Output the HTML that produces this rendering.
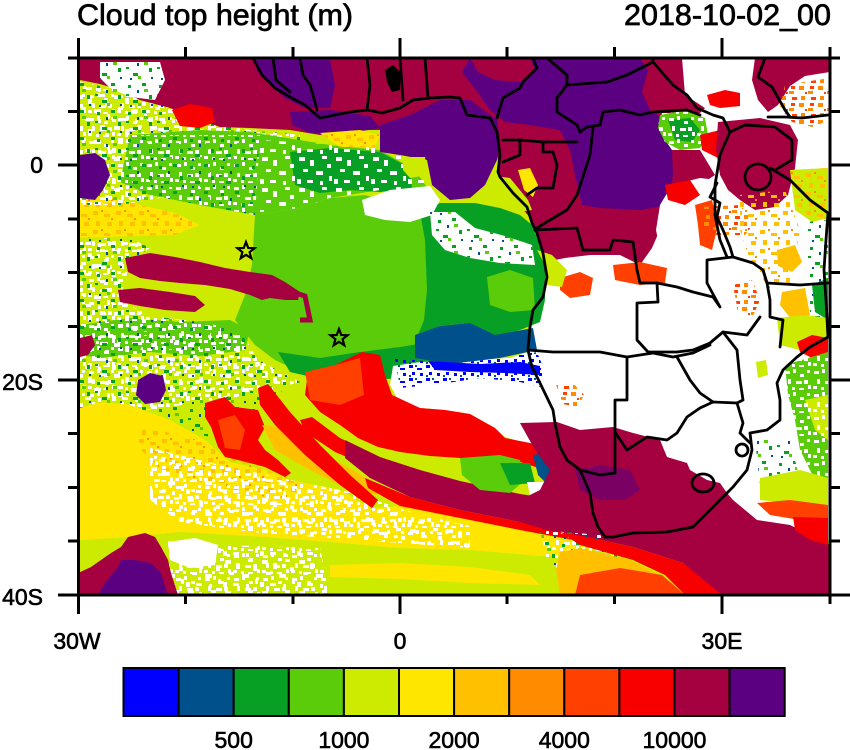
<!DOCTYPE html>
<html><head><meta charset="utf-8"><style>
html,body{margin:0;padding:0;background:#fff;}
svg{display:block;}
text{font-family:"Liberation Sans",Arial,sans-serif;fill:#000;}
</style></head><body>
<svg width="850" height="750" viewBox="0 0 850 750" xmlns="http://www.w3.org/2000/svg">
<defs>
<clipPath id="cp"><rect x="80" y="59.5" width="749" height="534"/></clipPath>
<pattern id="pw" width="29" height="23" patternUnits="userSpaceOnUse"><path fill="#fff" d="M2 3h5v3H2zM10 1h3v4h-3zM17 6h4v3h-4zM24 2h3v3h-3zM5 11h3v5H5zM13 13h6v3h-6zM21 12h4v4h-4zM1 18h4v3H1zM9 19h3v3H9zM16 20h5v2h-5zM25 17h3v4h-3z"/></pattern>
<pattern id="pw2" width="37" height="31" patternUnits="userSpaceOnUse"><path fill="#fff" d="M3 2h6v4H3zM14 5h4v6h-4zM26 1h5v3h-5zM31 9h4v4h-4zM7 14h5v3H7zM20 16h7v4h-7zM1 24h4v5H1zM11 25h6v3h-6zM24 26h3v4h-3zM33 21h3v5h-3z"/></pattern>
<pattern id="pg" width="31" height="27" patternUnits="userSpaceOnUse"><path fill="#08A024" d="M4 4h3v3H4zM18 2h4v3h-4zM25 14h3v4h-3zM9 19h5v3H9zM2 13h3v2H2z"/><path fill="#00508C" d="M13 9h2v3h-2zM27 23h2v2h-2zM6 24h2v2H6z"/><path fill="#5ACC0A" d="M20 8h4v3h-4zM14 22h3v3h-3z"/></pattern>
<pattern id="pa" width="23" height="19" patternUnits="userSpaceOnUse"><path fill="#FFC000" d="M1 2h5v4H1zM12 5h6v3h-6zM4 12h4v5H4zM15 13h5v4h-5z"/><path fill="#FF8C00" d="M9 1h2v2H9zM19 9h2v2h-2z"/></pattern>
<pattern id="po" width="19" height="17" patternUnits="userSpaceOnUse"><path fill="#FF8C00" d="M1 1h5v4H1zM10 6h5v3h-5zM3 11h4v4H3z"/><path fill="#FF4000" d="M12 1h4v3h-4zM13 12h5v3h-5zM7 7h2v2H7z"/></pattern>
<pattern id="pb" width="17" height="13" patternUnits="userSpaceOnUse"><path fill="#0000FF" d="M1 1h4v3H1zM9 4h5v2H9zM4 8h3v3H4zM12 9h3v3h-3z"/><path fill="#00508C" d="M7 1h2v2H7zM1 11h2v2H1z"/></pattern>
</defs>

<g clip-path="url(#cp)">
<rect x="0" y="0" width="850" height="750" fill="#fff"/>
<polygon fill="#CCEB00" points="80,80 497,80 497,132 500,155 498,172 500,177 513,193 527,207 532,223 537,233 543,253 547,277 543,297 533,310 530,327 528,350 532,367 540,383 553,410 555,423 560,447 567,460 580,470 590,493 593,513 598,527 605,537 830,540 830,595 80,595"/>
<polygon fill="#FFE600" points="80,196 110,197 140,205 175,213 200,225 175,235 130,236 80,238"/>
<polygon fill="url(#pa)" points="80,196 110,197 140,205 175,213 200,225 175,235 130,236 80,238"/>
<polygon fill="#5ACC0A" points="80,325 130,318 180,322 230,320 250,330 245,350 200,356 150,352 100,358 80,355"/>
<polygon fill="url(#pw)" points="80,82 120,90 160,103 200,122 250,130 300,135 300,150 250,160 200,185 160,198 120,205 80,205"/>
<polygon fill="url(#pw2)" points="80,82 120,90 160,103 200,122 250,130 300,135 300,150 250,160 200,185 160,198 120,205 80,205"/>
<polygon fill="url(#pg)" points="80,82 120,90 160,103 200,122 250,130 300,135 300,150 250,160 200,185 160,198 120,205 80,205"/>
<polygon fill="url(#pw)" points="80,238 130,238 150,248 130,262 120,300 150,316 200,322 240,330 258,360 300,382 250,395 200,402 150,410 80,408"/>
<polygon fill="url(#pw2)" points="80,238 130,238 150,248 130,262 120,300 150,316 200,322 240,330 258,360 300,382 250,395 200,402 150,410 80,408"/>
<polygon fill="url(#pg)" points="80,238 130,238 150,248 130,262 120,300 150,316 200,322 240,330 258,360 300,382 250,395 200,402 150,410 80,408"/>
<polygon fill="url(#pg)" points="80,360 250,360 300,382 265,400 230,440 170,430 120,410 80,405"/>
<polygon fill="#5ACC0A" points="130,135 200,130 250,132 330,145 380,150 415,170 430,192 380,190 330,198 300,208 255,215 200,205 150,195 120,182"/>
<polygon fill="#08A024" points="290,152 330,148 380,152 410,168 412,188 380,192 350,190 320,193 295,185"/>
<polygon fill="url(#pw)" points="120,135 260,135 255,215 200,205 150,195 120,182"/>
<polygon fill="url(#pg)" points="120,135 260,135 255,215 200,205 150,195 120,182"/>
<polygon fill="url(#pw2)" points="260,140 420,150 430,192 380,190 330,198 300,208 260,212"/>
<polygon fill="#5ACC0A" points="255,215 300,208 330,198 365,195 400,205 428,210 428,240 428,290 425,320 422,345 390,360 370,372 330,376 300,372 275,360 255,345 235,320 245,295 252,265"/>
<polygon fill="#08A024" points="420,212 440,203 475,203 500,208 520,215 532,225 540,245 545,270 545,300 540,322 520,330 495,337 470,323 440,326 418,335 424,320 427,290 425,240"/>
<polygon fill="#5ACC0A" points="487,277 510,270 533,278 535,310 510,312 490,305"/>
<polygon fill="#fff" points="362,200 390,190 430,186 440,200 432,215 410,222 385,220 365,215"/>
<polygon fill="#fff" points="430,212 455,212 475,228 505,236 532,245 535,265 500,263 470,258 445,250 432,235"/>
<polygon fill="url(#pg)" points="430,212 455,212 475,228 505,236 532,245 535,265 500,263 470,258 445,250 432,235"/>
<polygon fill="#FFE600" points="80,408 100,402 130,405 170,420 205,440 230,462 265,470 290,480 340,490 370,508 400,506 460,518 520,530 575,542 578,556 540,556 470,550 400,548 330,542 250,536 180,532 130,537 80,540"/>
<polygon fill="url(#pa)" points="140,425 205,442 265,470 300,482 300,500 250,495 200,482 160,468 135,445"/>
<polygon fill="url(#pw)" points="150,448 220,465 300,482 350,492 420,515 470,526 470,548 400,543 330,538 250,532 180,522 150,500"/>
<polygon fill="url(#pw2)" points="150,448 220,465 300,482 350,492 420,515 470,526 470,548 400,543 330,538 250,532 180,522 150,500"/>
<polygon fill="url(#pw)" points="168,540 220,545 320,548 330,595 170,595"/>
<polygon fill="url(#pw2)" points="168,540 220,545 320,548 330,595 170,595"/>
<polygon fill="#fff" points="168,542 195,538 218,545 215,565 190,568 170,560"/>
<polygon fill="#FFE600" points="330,565 400,563 470,567 530,575 540,585 470,583 400,579 330,577"/>
<polygon fill="#08A024" points="278,352 320,358 360,352 400,347 425,343 440,350 430,366 400,378 360,381 320,379 290,372"/>
<polygon fill="#fff" points="393,366 420,362 470,360 510,358 528,352 532,367 540,383 553,410 555,423 540,445 525,443 505,437 495,428 470,414 445,410 420,408 398,400 390,385"/>
<polygon fill="#00508C" points="415,335 440,326 470,323 495,335 533,328 537,350 500,358 450,364 415,358"/>
<polygon fill="url(#pb)" points="395,358 450,364 500,358 537,352 545,372 545,388 520,382 480,378 440,384 400,388"/>
<polygon fill="#0000FF" points="428,361 480,364 520,362 540,366 540,375 505,373 470,372 435,370"/>
<polygon fill="#F80000" points="305,395 308,372 335,365 362,352 380,355 385,375 392,395 420,408 445,410 470,414 495,428 505,438 530,443 553,450 560,470 545,470 520,462 490,458 460,458 430,456 400,452 378,447 358,438 340,425 320,412"/>
<polygon fill="#FF4000" points="305,372 335,365 360,358 364,395 340,405 310,400"/>
<polygon fill="#F80000" points="205,403 225,397 235,407 258,410 265,427 258,440 265,450 278,460 291,473 285,477 265,467 238,460 225,457 218,447 211,427 205,417"/>
<polygon fill="#FF4000" points="218,420 235,415 245,430 240,450 225,448"/>
<polygon fill="#FFC000" points="262,425 300,430 335,460 370,480 378,495 350,490 310,470 275,450"/>
<polygon fill="#F80000" points="258,388 268,384 290,412 320,445 350,475 378,500 372,508 340,485 305,455 275,425 260,405"/>
<polygon fill="#F80000" points="300,420 312,417 340,438 380,458 420,472 418,482 378,470 335,452 305,432"/>
<polygon fill="#A50040" points="345,440 380,457 420,470 460,481 520,494 560,500 590,505 590,535 560,532 520,522 460,510 410,497 370,478 345,458"/>
<polygon fill="#F80000" points="365,478 410,497 460,510 520,522 590,536 590,543 520,530 460,518 400,506 368,488"/>
<polygon fill="#5ACC0A" points="460,458 500,455 520,460 525,480 510,493 480,490 462,475"/>
<polygon fill="#08A024" points="500,463 530,463 535,483 510,485"/>
<polygon fill="#00508C" points="533,455 550,452 565,465 567,485 550,487 538,475"/>
<polygon fill="#fff" points="527,482 557,482 557,495 530,495"/>
<polygon fill="#A50040" points="125,258 150,253 175,257 200,262 225,268 250,272 272,275 285,282 300,292 298,300 285,300 270,298 262,300 250,295 230,289 205,285 180,283 160,281 140,278 128,272"/>
<polyline fill="none" stroke="#A50040" stroke-width="5" points="280,288 305,296 310,320 300,320"/>
<polygon fill="#A50040" points="118,290 140,288 170,292 195,296 205,305 195,312 165,310 140,306 120,302"/>
<polygon fill="#A50040" points="80,338 92,335 95,345 88,355 80,357"/>
<polygon fill="#5A0080" points="138,380 150,373 163,376 166,390 160,402 145,404 136,395"/>
<polygon fill="#5A0080" points="80,155 95,153 105,160 110,175 103,190 95,200 80,198"/>
<polygon fill="#A50040" points="78,573 91,567 111,553 121,547 128,537 145,533 155,537 161,547 168,560 171,573 178,595 78,595"/>
<polygon fill="#5A0080" points="98,595 105,583 118,567 121,560 135,560 151,563 161,573 165,587 168,595"/>
<polygon fill="#A50040" points="80,58 682,58 685,95 705,108 700,113 662,113 655,150 700,150 715,175 700,185 675,195 662,225 652,248 640,265 620,255 590,255 565,258 545,262 540,240 532,220 515,200 500,185 497,150 480,150 440,145 400,135 380,130 350,130 320,135 290,130 250,128 220,127 200,120 170,108 140,100 120,90 100,84 80,80"/>
<polygon fill="#fff" points="100,62 160,62 165,80 155,100 130,97 110,88 100,78"/>
<polygon fill="url(#pg)" points="100,62 160,62 165,80 155,100 130,97 110,88 100,78"/>
<polygon fill="#F80000" points="172,110 190,104 212,108 215,122 200,128 180,126"/>
<polygon fill="#5A0080" points="253,60 330,60 335,85 330,108 305,108 285,98 270,85 258,72"/>
<polygon fill="#5A0080" points="290,112 330,110 370,116 380,128 350,133 310,133 292,125"/>
<polygon fill="#FFE600" points="320,133 360,130 380,135 375,147 340,147"/>
<polygon fill="url(#pa)" points="320,133 360,130 380,135 375,147 340,147"/>
<polygon fill="#5A0080" points="380,125 410,115 440,100 470,100 497,120 500,140 497,160 485,185 470,198 450,200 432,185 427,160 400,155 380,152"/>
<polygon fill="#CCEB00" points="403,157 425,157 428,175 410,178 403,170"/>
<polygon fill="#5A0080" points="470,58 640,58 648,70 642,92 650,110 662,118 665,140 672,150 673,175 668,205 640,210 600,208 582,205 575,175 570,150 560,130 530,125 505,122 490,110 476,90 462,72"/>
<polygon fill="#A50040" points="470,58 530,58 535,70 520,82 495,80 478,72"/>
<polygon fill="#A50040" points="755,58 830,58 830,72 805,76 790,86 778,105 768,112 758,100 752,80"/>
<polygon fill="url(#po)" points="785,85 830,78 830,120 812,127 792,122 780,108"/>
<polygon fill="#F80000" points="707,95 725,90 740,93 740,106 720,108 710,105"/>
<polygon fill="#5ACC0A" points="660,115 685,110 705,118 708,135 700,148 680,150 665,142 658,128"/>
<polygon fill="#08A024" points="668,120 690,118 700,130 692,142 675,140"/>
<polygon fill="url(#pw)" points="660,115 685,110 705,118 708,135 700,148 680,150 665,142 658,128"/>
<polygon fill="#F80000" points="700,135 720,130 740,135 740,155 718,158 702,150"/>
<polygon fill="#A50040" points="718,122 760,118 790,125 798,140 795,168 788,195 775,207 755,210 740,200 728,190 720,175 716,150"/>
<polygon fill="#CCEB00" points="790,170 828,168 828,218 812,222 795,210"/>
<polygon fill="url(#pa)" points="790,170 828,168 828,218 812,222 795,210"/>
<polygon fill="#fff" points="672,185 700,178 718,180 720,215 718,250 700,256 680,258 660,250 656,230 660,205"/>
<polygon fill="#F80000" points="665,185 690,180 700,195 685,205 668,200"/>
<polygon fill="#FF4000" points="695,205 712,200 718,225 712,250 700,245 698,225"/>
<polygon fill="#FF4000" points="613,265 640,262 667,268 665,283 640,285 615,280"/>
<polygon fill="#FF4000" points="560,278 580,272 593,278 590,295 570,298 560,290"/>
<polygon fill="url(#po)" points="700,207 740,205 755,222 745,235 715,235 700,225"/>
<polygon fill="url(#pa)" points="740,195 785,190 800,230 790,285 770,290 750,260 740,230"/>
<polygon fill="#FFC000" points="777,250 795,245 802,262 792,272 778,266"/>
<polygon fill="#FFC000" points="782,292 805,288 810,315 792,320 780,305"/>
<polygon fill="url(#po)" points="733,285 752,280 760,300 752,318 738,312"/>
<polygon fill="url(#pg)" points="805,222 828,220 828,345 815,340 808,300 805,270"/>
<polygon fill="#08A024" points="812,285 828,278 828,320 815,312"/>
<polygon fill="#CCEB00" points="777,318 805,315 828,318 828,336 800,350 780,345"/>
<polygon fill="#F80000" points="797,342 812,335 828,338 828,355 812,358 800,352"/>
<polygon fill="#5ACC0A" points="785,365 828,352 828,485 815,480 800,450 795,420 788,395"/>
<polygon fill="#CCEB00" points="805,400 828,395 828,440 815,430"/>
<polygon fill="url(#pw)" points="785,365 828,352 828,485 815,480 800,450 795,420 788,395"/>
<polygon fill="#CCEB00" points="756,362 766,360 768,375 758,378"/>
<polygon fill="url(#pg)" points="755,440 790,440 800,480 760,485"/>
<polygon fill="#CCEB00" points="495,176 510,178 528,200 532,210 520,212 505,198 495,188"/>
<polygon fill="#FFE600" points="518,170 530,168 538,185 533,197 524,190"/>
<polygon fill="#CCEB00" points="537,250 552,255 567,270 562,287 547,285 545,265"/>
<polygon fill="url(#po)" points="556,385 572,382 584,395 578,407 563,404"/>
<polygon fill="#A50040" points="520,423 557,422 580,430 613,427 633,433 660,440 667,457 687,463 690,470 707,480 720,483 727,493 733,500 757,520 790,525 830,545 830,595 720,595 683,563 633,547 587,537 547,530 520,522 505,512 520,500 540,490 550,470 535,450"/>
<polygon fill="#5A0080" opacity="0.55" points="575,470 600,465 630,470 640,490 625,500 600,500 580,490"/>
<polygon fill="#CCEB00" points="760,478 800,470 828,478 828,505 790,503 760,500"/>
<polygon fill="#FF4000" points="757,503 790,500 828,505 828,522 800,520 770,515"/>
<polygon fill="#F80000" points="793,517 828,518 828,545 810,540 795,530"/>
<polygon fill="url(#pw)" points="540,530 600,535 620,555 600,575 560,575 545,555"/>
<polygon fill="url(#pg)" points="540,530 600,535 620,555 600,575 560,575 545,555"/>
<polygon fill="#F80000" points="560,532 587,537 633,547 683,563 722,595 685,595 665,575 633,560 580,545"/>
<polygon fill="#FFC000" points="560,552 580,548 630,560 660,575 620,568 580,575 575,595 560,595 556,570"/>
<polygon fill="#FF4000" points="580,575 620,568 662,575 685,595 575,595"/>
<g fill="none" stroke="#000" stroke-width="2.8" stroke-linejoin="round" stroke-linecap="round">
<polyline points="253,58 262,75 275,88 290,97 305,105 320,118 335,115 350,112 368,110 382,113 400,108 413,100 430,98 450,97 460,98 467,115 490,118 497,132 500,155 498,172 500,177 513,193 527,207 532,223 537,233 543,253 547,277 543,297 533,310 530,327 528,350 532,367 540,383 553,410 555,423 560,447 567,460 580,470 590,493 593,513 598,527 605,537 613,537 633,533 667,532 693,527 700,520 717,503 733,487 747,470 752,450 750,433 767,430 780,420 780,400 777,383 783,370 797,357 810,347 828,337 826,300 824,270 826,240 828,213"/>
<polyline points="273,58 276,80 290,92"/>
<polyline points="300,58 303,75 310,85 313,95 317,110"/>
<polyline points="367,110 370,85 367,58"/>
<polyline points="400,58 403,100"/>
<polyline points="425,58 428,98"/>
<polyline points="497,118 503,98 520,88 523,82 537,68 533,58"/>
<polyline points="547,58 567,75 567,85 557,98 557,112 577,125 580,132 587,127 600,125"/>
<polyline points="567,85 607,82 627,75 653,62 653,58"/>
<polyline points="600,125 603,112 620,110 640,115 653,112 687,110 700,115"/>
<polyline points="653,62 673,85 687,95 697,108 713,115 723,118 730,132 720,155 715,185 715,215 720,240 727,257"/>
<polyline points="503,140 520,140 543,142 577,142"/>
<polyline points="520,140 520,155 503,162"/>
<polyline points="543,142 543,152 553,152 557,165 553,188 537,188 527,195"/>
<polyline points="593,128 590,155 577,195 567,210 550,220 537,228"/>
<polyline points="717,183 710,197 720,203 717,217 723,230 730,247 733,257"/>
<polyline points="730,132 745,125 775,127 792,140 792,160 775,170"/>
<polyline points="768,117 785,117 802,118 828,115"/>
<polyline points="765,58 758,77 772,87 785,110 790,117"/>
<circle cx="758" cy="177" r="13"/>
<polyline points="770,168 790,180 810,200 828,213"/>
<polyline points="733,257 753,263 763,270 767,283 800,285 828,283"/>
<polyline points="763,270 767,283 770,300 770,317 783,320 780,347"/>
<polyline points="535,230 577,228 583,250 610,250 613,240 633,242 637,270 640,283 657,283 658,302 637,303 637,340 648,352"/>
<polyline points="657,283 677,287 693,292 713,297 720,307 707,283 707,260 733,257"/>
<polyline points="528,350 553,352 600,352 627,357 653,353 673,357 693,353 710,345"/>
<polyline points="648,352 677,352 693,350 710,343 723,332 747,335 760,317"/>
<polyline points="627,357 627,400 615,400 615,473 600,475 580,470"/>
<polyline points="615,432 627,450 647,437 667,440 677,433 687,417 700,408 713,402 737,403"/>
<polyline points="677,357 690,380 700,393 713,402"/>
<polyline points="723,332 737,350 740,380 743,400 737,403 743,423 740,433 750,443"/>
<ellipse cx="703" cy="483" rx="11" ry="9"/>
<circle cx="742" cy="450" r="6"/>
</g>
<polygon fill="#000" points="385,70 393,65 400,72 400,90 392,92 387,82"/>
<g fill="none" stroke="#000" stroke-width="2.2" stroke-linejoin="miter">
<polygon transform="translate(246,251)" points="0,-9 2.23,-3.07 8.56,-2.78 3.61,1.17 5.29,7.28 0,3.8 -5.29,7.28 -3.61,1.17 -8.56,-2.78 -2.23,-3.07"/>
<polygon transform="translate(339,338)" points="0,-9 2.23,-3.07 8.56,-2.78 3.61,1.17 5.29,7.28 0,3.8 -5.29,7.28 -3.61,1.17 -8.56,-2.78 -2.23,-3.07"/>
</g>
</g>

<rect x="78.5" y="58" width="751.5" height="537" fill="none" stroke="#000" stroke-width="3"/>
<g stroke="#000" stroke-width="3">
<line x1="78.5" y1="38" x2="78.5" y2="58"/><line x1="400" y1="38" x2="400" y2="58"/><line x1="722" y1="38" x2="722" y2="58"/>
<line x1="185.5" y1="47" x2="185.5" y2="58"/><line x1="293" y1="47" x2="293" y2="58"/><line x1="507" y1="47" x2="507" y2="58"/><line x1="614.5" y1="47" x2="614.5" y2="58"/><line x1="830" y1="47" x2="830" y2="58"/>
<line x1="78.5" y1="595" x2="78.5" y2="614"/><line x1="400" y1="595" x2="400" y2="614"/><line x1="722" y1="595" x2="722" y2="614"/>
<line x1="185.5" y1="595" x2="185.5" y2="604"/><line x1="293" y1="595" x2="293" y2="604"/><line x1="507" y1="595" x2="507" y2="604"/><line x1="614.5" y1="595" x2="614.5" y2="604"/><line x1="830" y1="595" x2="830" y2="604"/>
<line x1="58" y1="165" x2="78" y2="165"/><line x1="58" y1="380" x2="78" y2="380"/><line x1="58" y1="595" x2="78" y2="595"/>
<line x1="68" y1="58" x2="78" y2="58"/><line x1="68" y1="111.5" x2="78" y2="111.5"/><line x1="68" y1="219" x2="78" y2="219"/><line x1="68" y1="272.5" x2="78" y2="272.5"/><line x1="68" y1="326.5" x2="78" y2="326.5"/><line x1="68" y1="433.5" x2="78" y2="433.5"/><line x1="68" y1="487.5" x2="78" y2="487.5"/><line x1="68" y1="541" x2="78" y2="541"/>
<line x1="830" y1="165" x2="850" y2="165"/><line x1="830" y1="380" x2="850" y2="380"/><line x1="830" y1="595" x2="850" y2="595"/>
<line x1="830" y1="58" x2="840" y2="58"/><line x1="830" y1="111.5" x2="840" y2="111.5"/><line x1="830" y1="219" x2="840" y2="219"/><line x1="830" y1="272.5" x2="840" y2="272.5"/><line x1="830" y1="326.5" x2="840" y2="326.5"/><line x1="830" y1="433.5" x2="840" y2="433.5"/><line x1="830" y1="487.5" x2="840" y2="487.5"/><line x1="830" y1="541" x2="840" y2="541"/>
</g>

<g stroke="#000" stroke-width="0.7">
<text x="77" y="25" font-size="30" textLength="276" lengthAdjust="spacingAndGlyphs">Cloud top height (m)</text>
<text x="624" y="25" font-size="30" textLength="207" lengthAdjust="spacingAndGlyphs">2018-10-02_00</text>
</g>

<g font-size="23" stroke="#000" stroke-width="0.6">
<text x="43" y="173" text-anchor="end">0</text>
<text x="43" y="390" text-anchor="end">20S</text>
<text x="43" y="605" text-anchor="end">40S</text>
<text x="77" y="649" text-anchor="middle">30W</text>
<text x="400" y="649" text-anchor="middle">0</text>
<text x="722" y="649" text-anchor="middle">30E</text>
</g>

<g stroke="#000" stroke-width="2">
<rect x="123.5" y="668" width="55.1" height="48" fill="#0000FF"/>
<rect x="178.6" y="668" width="55.1" height="48" fill="#00508C"/>
<rect x="233.7" y="668" width="55.1" height="48" fill="#08A024"/>
<rect x="288.8" y="668" width="55.1" height="48" fill="#5ACC0A"/>
<rect x="343.9" y="668" width="55.1" height="48" fill="#CCEB00"/>
<rect x="399.0" y="668" width="55.1" height="48" fill="#FFE600"/>
<rect x="454.1" y="668" width="55.1" height="48" fill="#FFC000"/>
<rect x="509.2" y="668" width="55.1" height="48" fill="#FF8C00"/>
<rect x="564.3" y="668" width="55.1" height="48" fill="#FF4000"/>
<rect x="619.4" y="668" width="55.1" height="48" fill="#F80000"/>
<rect x="674.5" y="668" width="55.1" height="48" fill="#A50040"/>
<rect x="729.6" y="668" width="55.1" height="48" fill="#5A0080"/>
</g>
<g font-size="23" text-anchor="middle" stroke="#000" stroke-width="0.6">
<text x="233.7" y="748">500</text>
<text x="343.9" y="748">1000</text>
<text x="454.1" y="748">2000</text>
<text x="564.3" y="748">4000</text>
<text x="674.5" y="748">10000</text>
</g>
</svg>
</body></html>
